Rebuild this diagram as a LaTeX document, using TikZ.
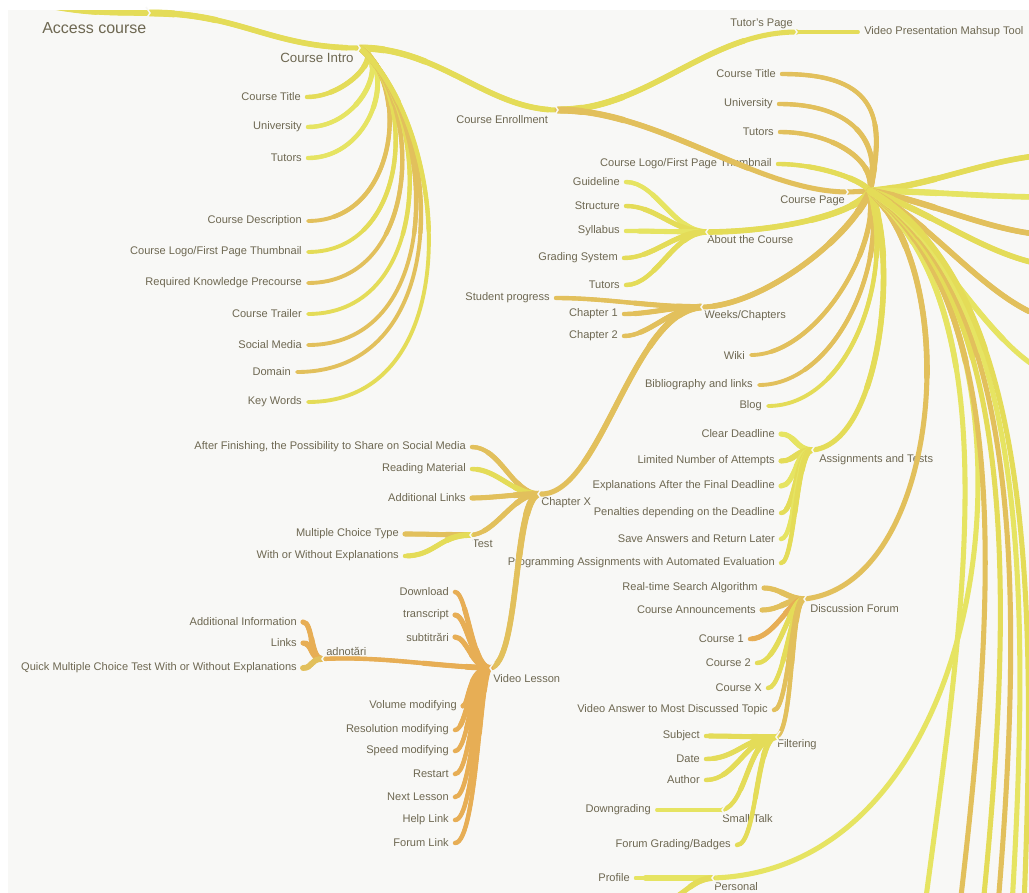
\documentclass[tikz,border=0pt]{standalone}
\usepackage{fontspec}
\setmainfont{Liberation Sans}
\usetikzlibrary{calc}
\definecolor{yl}{HTML}{E4DC58}
\definecolor{yg}{HTML}{E6E462}
\definecolor{tn}{HTML}{E2C05C}
\definecolor{og}{HTML}{E7AE55}
\definecolor{txt}{HTML}{6E6852}
\definecolor{bg}{HTML}{F8F8F6}
% curved connector: start, end, first control offset (from start), second control offset (from end);
% the stroke is widened in steps near the start so that it tapers towards the child
\newcommand\cnxpath[4]{(#1) .. controls ($(#1)+(#3)$) and ($(#2)+(#4)$) .. (#2)}
\newcommand\cnx[5][]{%
  \draw[#1] \cnxpath{#2}{#3}{#4}{#5};
  \draw[#1,line width=\pgflinewidth+0.4pt,dash pattern=on 150pt off 9000pt] \cnxpath{#2}{#3}{#4}{#5};
  \draw[#1,line width=\pgflinewidth+0.9pt,dash pattern=on 50pt off 9000pt] \cnxpath{#2}{#3}{#4}{#5};
  \draw[#1,line width=\pgflinewidth+1.4pt,dash pattern=on 18pt off 9000pt] \cnxpath{#2}{#3}{#4}{#5};}
% small chevron cut at a junction; #2 = 1 for a branch running right, -1 running left
\newcommand\notch[2]{\draw[bg,line width=1.1pt] ($(#1)+(-4*#2,-6)$) -- (#1) -- ($(#1)+(-4*#2,6)$);}
\begin{document}
\begin{tikzpicture}[x=0.75pt,y=-0.75pt,
  lab/.style={text=txt,font=\fontsize{8.3}{10}\selectfont,inner sep=0pt},
  leaf/.style={lab,anchor=east,inner xsep=4.5pt},
  hd/.style={lab,anchor=west},
  ln/.style={line cap=round,line width=2.9pt},
  br/.style={line cap=round,line width=3.8pt}]
\useasboundingbox (0,0) rectangle (1029,893);
\clip (0,0) rectangle (1029,893);
\fill[white] (0,0) rectangle (1029,893);
\fill[bg] (8,10) rectangle (1029,893);

% ---------- junction points ----------
\coordinate (top) at (30,2);
\coordinate (jAC) at (150,13);
\coordinate (jCI) at (360,48);
\coordinate (jCE) at (558,110);
\coordinate (jTP) at (797,32);
\coordinate (jCP) at (848,192);
\coordinate (hub) at (870,191);
\coordinate (jAb) at (706,232);
\coordinate (jWC) at (701,307);
\coordinate (jCX) at (538,494);
\coordinate (jTe) at (470,535);
\coordinate (jVL) at (490,668);
\coordinate (jAd) at (322,659);
\coordinate (jAT) at (812,450);
\coordinate (jDF) at (804,599);
\coordinate (jFi) at (776,737);
\coordinate (jST) at (722,810);
\coordinate (jPe) at (712,878);
\coordinate (pOff) at (662,905);
\foreach \n/\x/\y in {r1/1045/155,r2/1045/197,r3/1045/235,r4/1045/265,r5/1045/318,r6/1045/372,
  b1/925/905,b2/960/905,b3/983/905,b4/998/905,b5/1012/905,b6/1024/905}
  \coordinate (\n) at (\x,\y);

% ---------- branch titles ----------
\node[hd,font=\fontsize{12}{14}\selectfont] (acc) at (42,28) {Access course};
\node[hd,font=\fontsize{10}{12}\selectfont] (cin) at (280,58) {Course Intro};
\node[hd] (cen) at (456,120) {Course Enrollment};
\node[hd] (tpg) at (730,24) {Tutor's Page};
\node[lab,anchor=west,inner xsep=4.5pt] (vpm) at (858,32) {Video Presentation Mahsup Tool};
\node[hd] (cpg) at (780,201) {Course Page};
\node[hd] (abt) at (707,240) {About the Course};
\node[hd] (wch) at (704,316) {Weeks/Chapters};
\node[hd] (chx) at (541,503) {Chapter X};
\node[hd] (tst) at (472,544) {Test};
\node[hd] (vls) at (493,679) {Video Lesson};
\node[hd] (adn) at (326,651) {adnotări};
\node[hd] (ast) at (819,460) {Assignments and Tests};
\node[hd] (dfo) at (810,609) {Discussion Forum};
\node[hd] (fil) at (777,745) {Filtering};
\node[hd] (stk) at (722,819) {Small Talk};
\node[hd] (per) at (714,887) {Personal};

% ---------- leaves ----------
\node[leaf] (ciT) at (307,97) {Course Title};
\node[leaf] (ciU) at (308,127) {University};
\node[leaf] (ciTu) at (308,158) {Tutors};
\node[leaf] (ciD) at (308,221) {Course Description};
\node[leaf] (ciL) at (308,252) {Course Logo/First Page Thumbnail};
\node[leaf] (ciR) at (308,283) {Required Knowledge Precourse};
\node[leaf] (ciTr) at (308,314) {Course Trailer};
\node[leaf] (ciS) at (308,345) {Social Media};
\node[leaf] (ciDo) at (297,372) {Domain};
\node[leaf] (ciK) at (308,402) {Key Words};

\node[leaf] (cpT) at (782,74) {Course Title};
\node[leaf] (cpU) at (779,104) {University};
\node[leaf] (cpTu) at (780,132) {Tutors};
\node[leaf] (cpL) at (778,164) {Course Logo/First Page Thumbnail};
\node[leaf] (wik) at (751,355) {Wiki};
\node[leaf] (bib) at (759,385) {Bibliography and links};
\node[leaf] (blg) at (768,406) {Blog};

\node[leaf] (abG) at (626,182) {Guideline};
\node[leaf] (abS) at (626,206) {Structure};
\node[leaf] (abSy) at (626,231) {Syllabus};
\node[leaf] (abGr) at (624,258) {Grading System};
\node[leaf] (abT) at (626,285) {Tutors};

\node[leaf] (spr) at (556,298) {Student progress};
\node[leaf] (ch1) at (624,314) {Chapter 1};
\node[leaf] (ch2) at (624,336) {Chapter 2};

\node[leaf] (aft) at (472,447) {After Finishing, the Possibility to Share on Social Media};
\node[leaf] (rdm) at (472,469) {Reading Material};
\node[leaf] (adl) at (472,498) {Additional Links};
\node[leaf] (mct) at (405,534) {Multiple Choice Type};
\node[leaf] (woe) at (405,556) {With or Without Explanations};

\node[leaf] (dwn) at (455,592) {Download};
\node[leaf] (trs) at (455,615) {transcript};
\node[leaf] (sub) at (455,637) {subtitrări};
\node[leaf] (vol) at (463,706) {Volume modifying};
\node[leaf] (res) at (455,730) {Resolution modifying};
\node[leaf] (spd) at (455,751) {Speed modifying};
\node[leaf] (rst) at (455,774) {Restart};
\node[leaf] (nxt) at (455,797) {Next Lesson};
\node[leaf] (hlp) at (455,820) {Help Link};
\node[leaf] (frl) at (455,843) {Forum Link};

\node[leaf] (adi) at (303,622) {Additional Information};
\node[leaf] (lnk) at (303,643) {Links};
\node[leaf] (qmc) at (303,668) {Quick Multiple Choice Test With or Without Explanations};

\node[leaf] (a1) at (781,434) {Clear Deadline};
\node[leaf] (a2) at (781,461) {Limited Number of Attempts};
\node[leaf] (a3) at (781,486) {Explanations After the Final Deadline};
\node[leaf] (a4) at (781,513) {Penalties depending on the Deadline};
\node[leaf] (a5) at (781,539) {Save Answers and Return Later};
\node[leaf] (a6) at (781,563) {Programming Assignments with Automated Evaluation};

\node[leaf] (d1) at (764,588) {Real-time Search Algorithm};
\node[leaf] (d2) at (762,610) {Course Announcements};
\node[leaf] (d3) at (750,639) {Course 1};
\node[leaf] (d4) at (757,663) {Course 2};
\node[leaf] (d5) at (768,688) {Course X};
\node[leaf] (d6) at (774,710) {Video Answer to Most Discussed Topic};

\node[leaf] (f1) at (706,736) {Subject};
\node[leaf] (f2) at (706,759) {Date};
\node[leaf] (f3) at (706,780) {Author};
\node[leaf] (fgb) at (737,845) {Forum Grading/Badges};
\node[leaf] (dgr) at (657,810) {Downgrading};
\node[leaf] (prf) at (636,878) {Profile};

% ---------- main stem ----------
\begin{scope}
  \clip (8,10) rectangle (1029,893);
  \cnx[br,yl]{top}{jAC}{50,10}{-50,0}
\end{scope}
\cnx[br,yl]{jAC}{jCI}{90,0}{-90,0}
\cnx[br,yl]{jCI}{jCE}{80,0}{-70,0}
\cnx[br,yl]{jCE}{jTP}{90,0}{-90,0}
\draw[ln,yl] (jTP) -- (vpm.west);
\cnx[br,tn]{jCE}{jCP}{100,0}{-90,0}
\draw[br,tn] (jCP) -- (hub);

% ---------- course intro ----------
\cnx[ln,yl]{jCI}{ciT.east}{25,5}{40,0}
\cnx[ln,yg]{jCI}{ciU.east}{31,12}{52,0}
\cnx[ln,yg]{jCI}{ciTu.east}{38,20}{64,0}
\cnx[ln,tn]{jCI}{ciD.east}{51,36}{90,0}
\cnx[ln,yl]{jCI}{ciL.east}{57,44}{102,0}
\cnx[ln,tn]{jCI}{ciR.east}{64,51}{114,0}
\cnx[ln,yl]{jCI}{ciTr.east}{72,59}{127,0}
\cnx[ln,tn]{jCI}{ciS.east}{78,67}{139,0}
\cnx[ln,tn]{jCI}{ciDo.east}{84,74}{160,0}
\cnx[ln,yl]{jCI}{ciK.east}{90,81}{162,0}

% ---------- course page ----------
\cnx[ln,tn]{hub}{cpT.east}{15,-71}{98,0}
\cnx[ln,tn]{hub}{cpU.east}{12,-51}{72,0}
\cnx[ln,tn]{hub}{cpTu.east}{6,-31}{52,0}
\cnx[ln,yl]{hub}{cpL.east}{-10,-13}{37,0}
\cnx[br,yl]{hub}{jAb}{-15,24}{70,0}
\cnx[br,tn]{hub}{jWC}{-20,48}{60,0}
\cnx[ln,tn]{hub}{wik.east}{10,59}{64,0}
\cnx[ln,tn]{hub}{bib.east}{18,74}{76,0}
\cnx[ln,yl]{hub}{blg.east}{25,84}{82,0}
\cnx[br,yl]{hub}{jAT}{30,69}{68,-5}
\cnx[br,tn]{hub}{jDF}{95,89}{136,-14}
\cnx[br,yg]{hub}{jPe}{180,129}{298,-8}
\cnx[br,yl]{hub}{r1}{60,-5}{-60,5}
\cnx[br,yg]{hub}{r2}{60,0}{-60,0}
\cnx[br,tn]{hub}{r3}{60,10}{-60,-5}
\cnx[br,yl]{hub}{r4}{60,20}{-60,-10}
\cnx[br,tn]{hub}{r5}{60,30}{-60,-20}
\cnx[br,yg]{hub}{r6}{60,40}{-60,-30}
\cnx[br,yg]{hub}{b1}{140,120}{40,-300}
\cnx[br,tn]{hub}{b2}{145,115}{35,-300}
\cnx[br,yl]{hub}{b3}{150,110}{30,-300}
\cnx[br,tn]{hub}{b4}{155,105}{25,-300}
\cnx[br,yg]{hub}{b5}{160,100}{18,-300}
\cnx[br,yl]{hub}{b6}{165,95}{12,-300}

% ---------- about the course ----------
\cnx[ln,yg]{jAb}{abG.east}{-32,0}{30,0}
\cnx[ln,yl]{jAb}{abS.east}{-32,0}{30,0}
\cnx[ln,yg]{jAb}{abSy.east}{-30,0}{30,0}
\cnx[ln,yl]{jAb}{abGr.east}{-32,0}{30,0}
\cnx[ln,yl]{jAb}{abT.east}{-32,0}{30,0}

% ---------- weeks / chapters ----------
\cnx[ln,tn]{jWC}{spr.east}{-50,0}{50,0}
\cnx[ln,tn]{jWC}{ch1.east}{-30,0}{25,0}
\cnx[ln,tn]{jWC}{ch2.east}{-30,0}{25,0}
\cnx[br,tn]{jWC}{jCX}{-70,5}{62,6}

% ---------- chapter X ----------
\cnx[ln,tn]{jCX}{aft.east}{-25,0}{28,0}
\cnx[ln,yl]{jCX}{rdm.east}{-25,0}{25,0}
\cnx[ln,tn]{jCX}{adl.east}{-20,0}{20,0}
\cnx[ln,tn]{jCX}{jTe}{-25,0}{25,0}
\cnx[br,tn]{jCX}{jVL}{-25,10}{30,-5}
\cnx[ln,tn]{jTe}{mct.east}{-30,0}{30,0}
\cnx[ln,yl]{jTe}{woe.east}{-30,0}{30,0}

% ---------- video lesson ----------
\cnx[ln,og]{jVL}{dwn.east}{-18,0}{12,0}
\cnx[ln,og]{jVL}{trs.east}{-18,0}{12,0}
\cnx[ln,og]{jVL}{sub.east}{-18,0}{12,0}
\cnx[ln,og]{jVL}{jAd}{-60,-2}{60,-3}
\cnx[ln,og]{jVL}{vol.east}{-22,0}{6,0}
\cnx[ln,og]{jVL}{res.east}{-20,0}{12,0}
\cnx[ln,og]{jVL}{spd.east}{-18,0}{14,0}
\cnx[ln,og]{jVL}{rst.east}{-16,0}{16,0}
\cnx[ln,og]{jVL}{nxt.east}{-14,0}{18,0}
\cnx[ln,og]{jVL}{hlp.east}{-12,0}{20,0}
\cnx[ln,og]{jVL}{frl.east}{-10,0}{22,0}
\cnx[ln,og]{jAd}{adi.east}{-12,0}{10,0}
\cnx[ln,og]{jAd}{lnk.east}{-12,0}{10,0}
\cnx[ln,tn]{jAd}{qmc.east}{-12,0}{10,0}

% ---------- assignments and tests ----------
\cnx[ln,yg]{jAT}{a1.east}{-16,0}{14,0}
\cnx[ln,yl]{jAT}{a2.east}{-16,0}{14,0}
\cnx[ln,yg]{jAT}{a3.east}{-16,0}{14,0}
\cnx[ln,yl]{jAT}{a4.east}{-16,0}{14,0}
\cnx[ln,yg]{jAT}{a5.east}{-16,0}{14,0}
\cnx[ln,yl]{jAT}{a6.east}{-16,0}{14,0}

% ---------- discussion forum ----------
\cnx[ln,tn]{jDF}{d1.east}{-16,0}{16,0}
\cnx[ln,tn]{jDF}{d2.east}{-16,0}{18,0}
\cnx[ln,og]{jDF}{d3.east}{-14,0}{24,0}
\cnx[ln,yl]{jDF}{d4.east}{-14,0}{22,0}
\cnx[ln,yl]{jDF}{d5.east}{-12,0}{16,0}
\cnx[ln,tn]{jDF}{d6.east}{-12,0}{14,0}
\cnx[ln,tn]{jDF}{jFi}{-14,0}{18,-5}
\cnx[ln,yl]{jFi}{f1.east}{-30,0}{30,0}
\cnx[ln,yl]{jFi}{f2.east}{-30,0}{30,0}
\cnx[ln,yl]{jFi}{f3.east}{-30,0}{30,0}
\cnx[ln,yl]{jFi}{jST}{-28,0}{25,-5}
\cnx[ln,yl]{jFi}{fgb.east}{-20,0}{20,0}
\draw[ln,yg] (jST) -- (dgr.east);

% ---------- personal ----------
\cnx[ln,yg]{jPe}{prf.east}{-30,0}{30,0}
\cnx[ln,yl]{jPe}{pOff}{-20,2}{25,-12}

% ---------- junction cuts ----------
\notch{jAC}{1}
\notch{jCI}{1}
\notch{jCE}{1}
\notch{jTP}{1}
\notch{jCP}{1}
\notch{jAb}{-1}
\notch{jWC}{-1}
\notch{jCX}{-1}
\notch{jTe}{-1}
\notch{jVL}{-1}
\notch{jAd}{-1}
\notch{jAT}{-1}
\notch{jDF}{-1}
\notch{jFi}{-1}
\notch{jST}{-1}
\notch{jPe}{-1}
\end{tikzpicture}
\end{document}
